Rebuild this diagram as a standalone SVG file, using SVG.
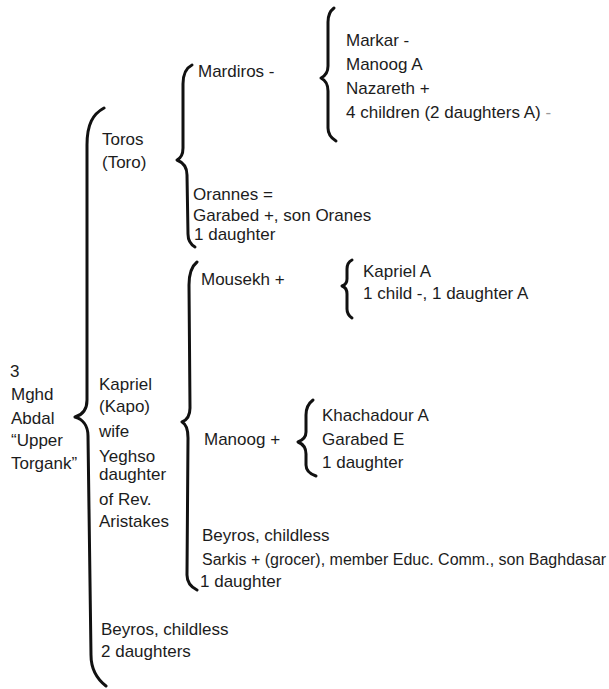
<svg xmlns="http://www.w3.org/2000/svg" width="609" height="689" viewBox="0 0 609 689">
  <style>
    text { font-family: "Liberation Sans", Arial, sans-serif; font-size: 17px; fill: #1c1c1c; }
    .brace { fill: none; stroke: #111; stroke-width: 3; stroke-linecap: round; stroke-linejoin: round; }
  </style>
  <rect width="609" height="689" fill="#ffffff"/>

  <!-- braces joining each person to their children -->
  <g id="connectors">
    <path class="brace" d="M104,108 C93,114 87,124 87,145 L87,400 C87,410 82,415 75,417 C82,419 88,425 88,436 L91,655 C91,670 97,679 106,686"/>
    <path class="brace" d="M192,65 C186,68 183,74 183,84 L183,148 C183,155 181,158 177,160 C182,162 187,166 187,175 L188,234 C188,240 190,244 195,247"/>
    <path class="brace" d="M334,8 C330,11 328,15 328,22 L328,66 C328,72 325,76 321,78 C325,80 328,84 328,91 L328,128 C328,134 331,138 336,141"/>
    <path class="brace" d="M197,262 C192,266 189,274 189,285 L190,408 C190,416 187,420 182,422 C186,424 188,430 188,438 L187,575 C187,582 191,587 197,590"/>
    <path class="brace" d="M352,260 C348,262 347,265 347,269 L347,279 C347,283 345,285 342,286 C345,287 347,290 347,294 L347,309 C347,313 349,316 352,318"/>
    <path class="brace" d="M313,400 C309,403 306,408 306,415 L306,432 C306,437 303,440 298,442 C303,444 306,448 306,454 L306,465 C306,470 310,474 316,476"/>
  </g>

  <g id="abdal">
    <text x="10" y="377">3</text>
    <text x="11" y="400">Mghd</text>
    <text x="11" y="424">Abdal</text>
    <text x="11" y="446">“Upper</text>
    <text x="11" y="469">Torgank”</text>
  </g>

  <g id="toros">
    <text x="102" y="145">Toros</text>
    <text x="102" y="168">(Toro)</text>
  </g>

  <g id="mardiros">
    <text x="198" y="77">Mardiros -</text>
  </g>

  <g id="mardiros-children">
    <text x="346" y="46">Markar -</text>
    <text x="346" y="70">Manoog A</text>
    <text x="346" y="94">Nazareth +</text>
    <text x="346" y="118">4 children (2 daughters A) <tspan fill="#9a9a9a">-</tspan></text>
  </g>

  <g id="orannes">
    <text x="193" y="200">Orannes =</text>
    <text x="193" y="221">Garabed +, son Oranes</text>
    <text x="194" y="240">1 daughter</text>
  </g>

  <g id="kapriel">
    <text x="99" y="390">Kapriel</text>
    <text x="99" y="412">(Kapo)</text>
    <text x="99" y="437">wife</text>
    <text x="99" y="462">Yeghso</text>
    <text x="99" y="480">daughter</text>
    <text x="99" y="505">of  Rev.</text>
    <text x="99" y="527">Aristakes</text>
  </g>

  <g id="mousekh">
    <text x="201" y="285">Mousekh +</text>
  </g>

  <g id="mousekh-children">
    <text x="363" y="277">Kapriel A</text>
    <text x="363" y="299">1 child -, 1 daughter A</text>
  </g>

  <g id="manoog">
    <text x="204" y="445">Manoog +</text>
  </g>

  <g id="manoog-children">
    <text x="322" y="421">Khachadour A</text>
    <text x="322" y="445">Garabed E</text>
    <text x="322" y="468">1 daughter</text>
  </g>

  <g id="kapriel-other-children">
    <text x="202" y="541">Beyros, childless</text>
    <text x="202" y="565" style="font-size:16px">Sarkis + (grocer), member Educ. Comm., son Baghdasar</text>
    <text x="200" y="587">1 daughter</text>
  </g>

  <g id="beyros">
    <text x="101" y="635">Beyros, childless</text>
    <text x="101" y="657">2 daughters</text>
  </g>
</svg>
